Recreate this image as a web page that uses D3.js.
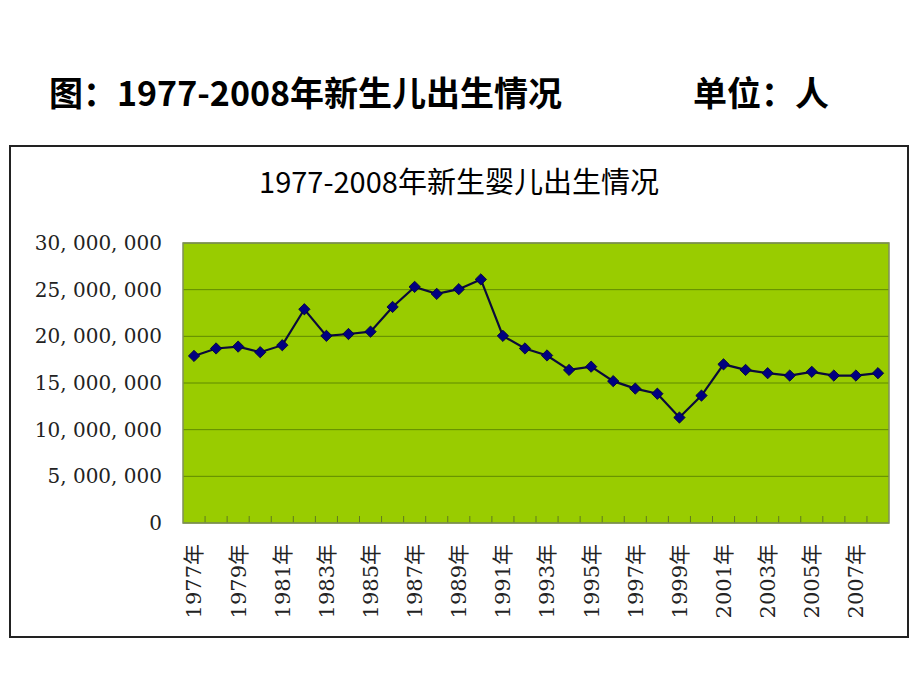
<!DOCTYPE html>
<html lang="zh">
<head>
    <meta charset="UTF-8">
    <title>1977-2008年新生婴儿出生情况</title>
    <script src="https://d3js.org/d3.v7.min.js"></script>
    <style>
        body { margin: 0; background: #fff; }
        .heading { font-family: "Noto Sans CJK SC", sans-serif; font-weight: bold; font-size: 34px; }
        .chart-title { font-family: "Noto Sans CJK SC", sans-serif; font-size: 29px; }
        .tick text { font-family: "DejaVu Serif", "Noto Sans CJK SC", serif; font-size: 20px; fill: #222; }
        .x-axis .tick text { font-size: 21px; }
    </style>
</head>
<body>
    <svg width="920" height="690"></svg>

    <script>
        // Years on the category axis
        const years = d3.range(1977, 2009);
        // Births per year
        const births = [
            17900000, 18700000, 18900000, 18300000, 19050000, 22900000, 20050000, 20250000,
            20500000, 23150000, 25300000, 24550000, 25050000, 26100000, 20050000, 18700000,
            17950000, 16400000, 16750000, 15200000, 14400000, 13850000, 11300000, 13650000,
            17000000, 16400000, 16050000, 15800000, 16200000, 15800000, 15800000, 16050000
        ];
        // Value axis ticks
        const yTicks = [0, 5000000, 10000000, 15000000, 20000000, 25000000, 30000000];
        // Every other year gets a label
        const xLabels = years.filter(d => (d - 1977) % 2 === 0);

        const svg = d3.select("svg");

        // Page heading and unit
        svg.append("text").attr("class", "heading")
            .attr("x", 49).attr("y", 91).attr("dominant-baseline", "central")
            .text("图：1977-2008年新生儿出生情况");
        svg.append("text").attr("class", "heading")
            .attr("x", 693).attr("y", 91).attr("dominant-baseline", "central")
            .text("单位：人");

        // Chart frame
        svg.append("rect")
            .attr("x", 10).attr("y", 146).attr("width", 898).attr("height", 491)
            .attr("fill", "#fff").attr("stroke", "#222").attr("stroke-width", 2);

        svg.append("text").attr("class", "chart-title")
            .attr("x", 459).attr("y", 180)
            .attr("text-anchor", "middle").attr("dominant-baseline", "central")
            .text("1977-2008年新生婴儿出生情况");

        const plot = { left: 183, right: 889, top: 243, bottom: 523 };

        const x = d3.scaleBand()
            .domain(years)
            .range([plot.left, plot.right]);

        const y = d3.scaleLinear()
            .domain([0, 30000000])
            .range([plot.bottom, plot.top]);

        // Plot background
        svg.append("rect")
            .attr("x", plot.left).attr("y", plot.top)
            .attr("width", plot.right - plot.left).attr("height", plot.bottom - plot.top)
            .attr("fill", "#99cc00");

        // Horizontal gridlines
        svg.append("g")
            .selectAll("line")
            .data(yTicks)
            .enter().append("line")
            .attr("x1", plot.left).attr("x2", plot.right)
            .attr("y1", d => y(d)).attr("y2", d => y(d))
            .attr("stroke", "#5f8a00").attr("stroke-width", 1);

        // Small ticks between categories along the bottom
        svg.append("g")
            .selectAll("line")
            .data(years.slice(1))
            .enter().append("line")
            .attr("x1", d => x(d)).attr("x2", d => x(d))
            .attr("y1", plot.bottom).attr("y2", plot.bottom - 7)
            .attr("stroke", "#5f7a20").attr("stroke-width", 1);

        // Plot border
        svg.append("rect")
            .attr("x", plot.left).attr("y", plot.top)
            .attr("width", plot.right - plot.left).attr("height", plot.bottom - plot.top)
            .attr("fill", "none").attr("stroke", "#7f8f5a").attr("stroke-width", 1.5);

        // Y axis labels
        const fmt = d3.format(",");
        svg.append("g")
            .attr("transform", `translate(${plot.left},0)`)
            .call(d3.axisLeft(y).tickValues(yTicks).tickSize(0).tickPadding(21)
                .tickFormat(d => fmt(d).replace(/,/g, ", ")))
            .call(g => g.select(".domain").remove());

        // X axis labels, rotated
        const xAxis = svg.append("g")
            .attr("class", "x-axis")
            .attr("transform", `translate(0,${plot.bottom})`)
            .call(d3.axisBottom(x).tickValues(xLabels).tickSize(0)
                .tickFormat(d => d + "年"))
            .call(g => g.select(".domain").remove());
        xAxis.selectAll(".tick text")
            .attr("transform", "rotate(-90)")
            .attr("x", -21).attr("y", 0).attr("dy", "0.35em")
            .attr("text-anchor", "end");

        const cx = d => x(d) + x.bandwidth() / 2;

        // Line
        svg.append("path")
            .datum(years)
            .attr("fill", "none")
            .attr("stroke", "#0a0a3a")
            .attr("stroke-width", 2.2)
            .attr("d", d3.line()
                .x(d => cx(d))
                .y((d, i) => y(births[i])));

        // Diamond markers
        svg.append("g")
            .selectAll("path")
            .data(years)
            .enter().append("path")
            .attr("d", d3.symbol().type(d3.symbolSquare).size(64))
            .attr("transform", (d, i) => `translate(${cx(d)},${y(births[i])}) rotate(45)`)
            .attr("fill", "#000080")
            .attr("stroke", "#00003a")
            .attr("stroke-width", 0.8);
    </script>
</body>
</html>
